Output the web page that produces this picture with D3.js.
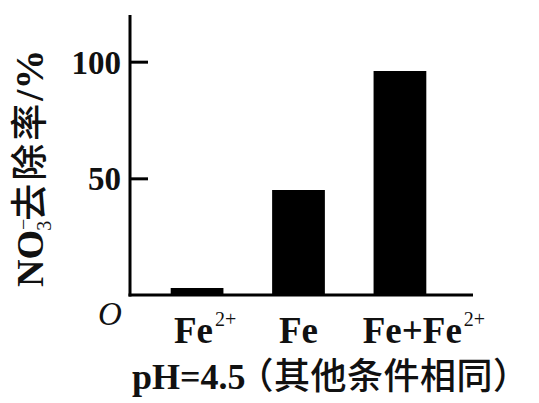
<!DOCTYPE html>
<html><head><meta charset="utf-8">
<script src="https://cdn.jsdelivr.net/npm/d3@7/dist/d3.min.js"></script>
<style>
html,body{margin:0;padding:0;background:#fff;}
svg{display:block;}
text{font-family:"Liberation Serif","Times New Roman","Noto Sans CJK SC",serif;fill:#111;}
.cjk{font-family:"Noto Sans CJK SC",sans-serif;font-weight:500;}
</style></head>
<body>
<script>
const categories = ["Fe2+", "Fe", "Fe+Fe2+"];
const removalRate = [3, 45, 96];
const yTicks = [50, 100];
const yLabelMain = "NO";
const yLabelCJK = "去除率";
const yLabelUnit = "/%";
const footLatin = "pH=4.5";
const footCJK = "（其他条件相同）";

const W = 539, H = 403;
const svg = d3.select("body").append("svg").attr("width", W).attr("height", H);

const axisX0 = 130, axisX1 = 473, axisY0 = 295;
const y = d3.scaleLinear().domain([0, 120]).range([axisY0, 15]);
const x = d3.scaleBand().domain(categories).range([122, 475]).paddingInner(0.48).paddingOuter(0.48);

// bars
svg.selectAll("rect.bar").data(categories).enter().append("rect")
  .attr("class", "bar")
  .attr("x", d => x(d))
  .attr("width", x.bandwidth())
  .attr("y", (d, i) => y(removalRate[i]))
  .attr("height", (d, i) => y(0) - y(removalRate[i]))
  .attr("fill", "#000");

// y axis ticks (inward)
const yAxis = d3.axisRight(y).tickValues(yTicks).tickSize(18).tickFormat("");
const gy = svg.append("g").attr("transform", `translate(${axisX0},0)`).call(yAxis);
gy.select(".domain").remove();
gy.selectAll(".tick line").attr("stroke", "#000").attr("stroke-width", 3);
svg.append("line").attr("x1", axisX0).attr("x2", axisX0).attr("y1", y(120)).attr("y2", axisY0 + 1.5)
  .attr("stroke", "#000").attr("stroke-width", 3);
svg.append("line").attr("x1", axisX0 - 1.5).attr("x2", axisX1).attr("y1", axisY0).attr("y2", axisY0)
  .attr("stroke", "#000").attr("stroke-width", 3);

// y tick labels
svg.selectAll("text.ytl").data(yTicks).enter().append("text")
  .attr("class", "ytl")
  .attr("x", 121).attr("y", d => y(d) + 12)
  .attr("text-anchor", "end").attr("font-size", 33).attr("font-weight", "bold")
  .text(d => d);

// origin
svg.append("text").attr("x", 98).attr("y", 325).attr("font-size", 33).attr("font-style", "italic").text("O");

// x labels
const labelDx = [8, 0, 24];
const xl = svg.selectAll("text.xl").data(categories).enter().append("text")
  .attr("class", "xl")
  .attr("x", (d, i) => x(d) + x.bandwidth() / 2 + labelDx[i])
  .attr("y", 343)
  .attr("text-anchor", "middle").attr("font-size", 37).attr("font-weight", "bold");
xl.each(function(d) {
  const t = d3.select(this);
  if (d.endsWith("2+")) {
    t.append("tspan").text(d.slice(0, -2));
    t.append("tspan").attr("dy", -17).attr("dx", 2).attr("font-size", 20).attr("font-weight", "normal").text("2+");
  } else {
    t.text(d);
  }
});

// y label (rotated)
const yl = svg.append("text").attr("transform", "translate(43,287) rotate(-90)")
  .attr("text-anchor", "start").attr("font-size", 38).attr("font-weight", "bold");
yl.append("tspan").text(yLabelMain);
yl.append("tspan").attr("dy", -13).attr("font-size", 20).attr("font-weight", "normal").text("−");
yl.append("tspan").attr("dx", -12).attr("dy", 21).attr("font-size", 20).attr("font-weight", "normal").text("3");
yl.append("tspan").attr("dy", -8).attr("class", "cjk").attr("font-size", 37).attr("letter-spacing", 3).text(yLabelCJK);
yl.append("tspan").attr("font-size", 40).text(yLabelUnit);

// footnote
const ft = svg.append("text").attr("x", 132).attr("y", 389).attr("font-size", 36).attr("font-weight", "bold");
ft.append("tspan").text(footLatin);
ft.append("tspan").attr("class", "cjk").attr("dx", -8).attr("font-size", 36).attr("letter-spacing", 0.5).text(footCJK);
</script>
</body></html>
